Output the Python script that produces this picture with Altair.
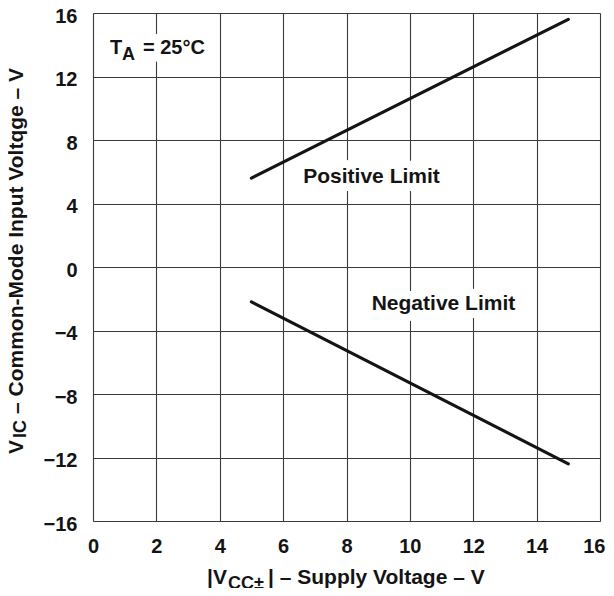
import altair as alt
import pandas as pd

# ---- data ----
supply_v = [5, 15]
positive_limit = [5.6, 15.6]
negative_limit = [-2.2, -12.4]

x_ticks = [0, 2, 4, 6, 8, 10, 12, 14, 16]
y_ticks = [-16, -12, -8, -4, 0, 4, 8, 12, 16]

labels_text = ["Positive Limit", "Negative Limit"]
labels_x = [8.79, 11.06]
labels_y = [5.29, -2.71]

FONT = "Liberation Sans"
INK = "#141414"
W, H = 507, 508

lines_df = pd.DataFrame({
    "supply": supply_v * 2,
    "vic": positive_limit + negative_limit,
    "limit": ["Positive"] * len(supply_v) + ["Negative"] * len(supply_v),
})
ann_df = pd.DataFrame({"t": labels_text, "x": labels_x, "y": labels_y})
one = pd.DataFrame({"a": [0]})

xscale = alt.Scale(domain=[0, 16], nice=False, zero=False)
yscale = alt.Scale(domain=[-16, 16], nice=False, zero=False)

x_axis = alt.Axis(values=x_ticks, grid=True, ticks=False, domain=False, title=None,
                  labelFont=FONT, labelFontWeight="bold", labelFontSize=20,
                  labelColor=INK, labelPadding=15, labelFlush=False,
                  labelOverlap=False, gridColor="#3a3a3a", gridWidth=1.1,
                  gridOpacity=1,
                  labelAlign={"condition": {"test": "datum.value === 16", "value": "right"},
                              "value": "center"},
                  labelOffset={"condition": {"test": "datum.value === 16", "value": 5},
                               "value": 0})
y_axis = alt.Axis(values=y_ticks, grid=True, ticks=False, domain=False, title=None,
                  labelFont=FONT, labelFontWeight="bold", labelFontSize=20,
                  labelColor=INK, labelPadding=16, labelOffset=3, labelFlush=False,
                  labelOverlap=False, gridColor="#3a3a3a", gridWidth=1.1,
                  gridOpacity=1)

base = alt.Chart(lines_df)

lines = base.mark_line(color=INK, strokeWidth=3.2, strokeCap="round").encode(
    x=alt.X("supply:Q", scale=xscale, axis=x_axis),
    y=alt.Y("vic:Q", scale=yscale, axis=y_axis),
    detail="limit:N",
)

ann_halo = alt.Chart(ann_df).mark_text(
    font=FONT, fontWeight="bold", fontSize=21, baseline="alphabetic",
    align="center", color="white", stroke="white", strokeWidth=16,
    strokeJoin="round",
).encode(x=alt.X("x:Q", scale=xscale), y=alt.Y("y:Q", scale=yscale), text="t:N")

ann = alt.Chart(ann_df).mark_text(
    font=FONT, fontWeight="bold", fontSize=21, baseline="alphabetic",
    align="center", color=INK,
).encode(x=alt.X("x:Q", scale=xscale), y=alt.Y("y:Q", scale=yscale), text="t:N")


def txt(s, x, y, size=21, angle=0, halo=False, baseline="alphabetic"):
    kw = dict(text=s, font=FONT, fontWeight="bold", fontSize=size,
              align="left", baseline=baseline, color=INK)
    if angle:
        kw["angle"] = angle
    if halo:
        kw.update(color="white", stroke="white", strokeWidth=18, strokeJoin="round")
    return alt.Chart(one).mark_text(**kw).encode(x=alt.value(x), y=alt.value(y))


# T_A = 25°C annotation (plot-area pixel offsets)
ta = [
    txt("T", 17, 41, 20, halo=True), txt("A", 29, 47, 18, halo=True),
    txt("= 25°C", 50, 41, 20, halo=True),
    txt("T", 17, 41, 20), txt("A", 29, 47, 18), txt("= 25°C", 50, 41, 20),
]

# x-axis title with subscript
xt = [
    txt("|V", 114, 571, 21),
    txt("CC±", 135, 576, 18),
    txt("| – Supply Voltage – V", 175, 571, 21),
]

# y-axis title (rotated) with subscript
yt = [
    txt("V", -76.5, 441, 21, angle=270, baseline="middle"),
    txt("IC", -72.5, 425, 18, angle=270, baseline="middle"),
    txt("– Common-Mode Input Voltqge – V", -76.5, 401, 21, angle=270, baseline="middle"),
]

chart = alt.layer(lines, ann_halo, ann, *ta, *xt, *yt).properties(
    width=W, height=H,
    autosize=alt.AutoSizeParams(type="none"),
    padding={"left": 85, "top": 5, "right": 6, "bottom": 67},
).configure_view(stroke=INK, strokeWidth=2.2).configure(background="white")

chart.save("out.html", embed_options={"renderer": "svg", "actions": False})
